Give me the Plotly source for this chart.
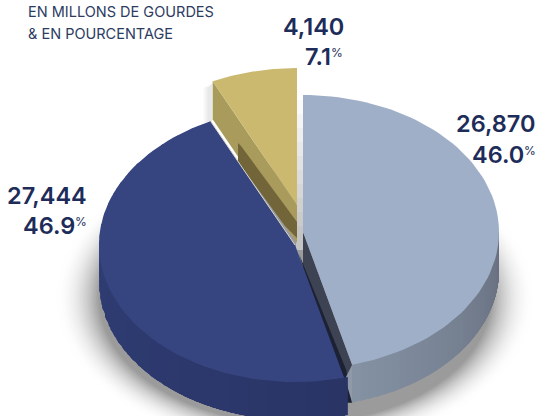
import math
import plotly.graph_objects as go

values = [26870, 27444, 4140]
percents = ["46.0", "46.9", "7.1"]
value_labels = ["26,870", "27,444", "4,140"]
subtitle = ["EN MILLONS DE GOURDES", "& EN POURCENTAGE"]

TOP = ["#9fafc8", "#364580", "#cbb96f"]
A, B, DEPTH = 196, 137, 38
CENTERS = [(303, 232), (295, 245), (297, 205)]

total = sum(values)
angles = [0]
for v in values:
    angles.append(angles[-1] + v / total * 360)
fig = go.Figure()


def pt(c, t, dy=0):
    r = math.radians(t)
    return c[0] + A * math.sin(r), c[1] - B * math.cos(r) + dy


def poly(pts, color):
    fig.add_trace(go.Scatter(x=[p[0] for p in pts], y=[p[1] for p in pts], mode="lines",
                             fill="toself", fillcolor=color, line=dict(width=0),
                             hoverinfo="skip", showlegend=False))


def arc(c, t0, t1, n=80, dy=0):
    return [pt(c, t0 + (t1 - t0) * i / n, dy) for i in range(n + 1)]


def wedge(c, t0, t1, color):
    poly([c] + arc(c, t0, t1) + [c], color)


def mix(c0, c1, f):
    return "rgb(%d,%d,%d)" % tuple(c0[i] + (c1[i] - c0[i]) * f for i in range(3))


def outer_wall(c, t0, t1, c0, c1, bands=30):
    for i in range(bands):
        a0 = t0 + (t1 - t0) * i / bands
        a1 = t0 + (t1 - t0) * (i + 1.2) / bands
        a1 = min(a1, t1)
        poly(arc(c, a0, a1, 6) + arc(c, a1, a0, 6, DEPTH), mix(c0, c1, i / bands))


def radial_wall(c, t, color):
    e = pt(c, t)
    poly([c, e, (e[0], e[1] + DEPTH), (c[0], c[1] + DEPTH)], color)


# soft shadow under the pie, drawn as ellipse shapes from pale to dark grey
LAYERS = 30
for i in range(LAYERS):
    f = (i + 1) / LAYERS
    sa = 240 - 44 * f
    sb = 152 - 26 * f
    g = int(255 - 100 * f * f)
    fig.add_shape(type="circle", xref="x", yref="y", layer="below",
                  x0=295 - sa, x1=295 + sa, y0=298 - sb, y1=298 + sb,
                  fillcolor="rgb(%d,%d,%d)" % (g, g, g), line=dict(width=0))
# shadow beside the gold slice and in the gap next to it
for i in range(6):
    g = 252 - i * 4
    poly([(203 + i, 88), (212, 84), (212, 140), (203 + i, 130)], "rgb(%d,%d,%d)" % (g, g, g))
for i in range(10):
    g = 250 - i * 6
    poly([(296, 100 + i * 14), (304, 100 + i * 14), (304, 250), (296, 250)], "rgb(%d,%d,%d)" % (g, g, g))

# gold slice
gold_t0, gold_t1 = angles[2], angles[3]
radial_wall(CENTERS[2], gold_t0, "#a99b5c")
wedge(CENTERS[2], gold_t0, gold_t1, TOP[2])
# shaded slot on the gold wall
poly([(238, 143), (241, 146), (297, 222), (297, 238), (285, 226), (238, 162)], "#716539")

# light slice inner wall
lc = CENTERS[0]
le = pt(lc, angles[1])
radial_wall(lc, angles[1], "#3d4352")
poly([(lc[0] - 4, lc[1] + 22), (le[0] - 6, le[1] + 5), (le[0], le[1] + DEPTH), (le[0] - 8, le[1] + DEPTH)], "#1c2233")
poly([le, (le[0], le[1] + DEPTH), (le[0] - 7, le[1] + 14)], "#8f99a8")

# dark slice
outer_wall(CENTERS[1], angles[2], angles[1], (0x33, 0x42, 0x7c), (0x2a, 0x35, 0x66))
wedge(CENTERS[1], angles[1], angles[2], TOP[1])
# thin highlight along the dark slice's edge under the gold wall
dc = CENTERS[1]
de = pt(dc, angles[2])
fig.add_trace(go.Scatter(x=[de[0], dc[0]], y=[de[1], dc[1]], mode="lines",
                         line=dict(color="#d8d6c8", width=1), hoverinfo="skip", showlegend=False))

# light slice
outer_wall(lc, angles[1], 90, (0x85, 0x92, 0xa4), (0x66, 0x6e, 0x7e))
wedge(lc, angles[0], angles[1], TOP[0])

NAVY = "#1d2c58"


def note(x, y, text, size, anchor="right", color=NAVY, weight=600):
    fig.add_annotation(x=x, y=y, text=text, showarrow=False, xanchor=anchor, yanchor="middle",
                       font=dict(family="Inter", size=size, color=color, weight=weight),
                       xref="x", yref="y")


def pct(right, y, p):
    note(right - 11, y, p, 23.5)
    note(right + 1, y - 4, "%", 12, weight=400)


note(538, 123, value_labels[0], 23.5)
pct(537, 154, percents[0])
note(89, 195, value_labels[1], 23.5)
pct(88, 225, percents[1])
note(346, 26, value_labels[2], 23.5)
pct(344, 56, percents[2])
note(26, 11, subtitle[0], 14.5, "left", "#2c3b62", 400)
note(26, 33, subtitle[1], 14.5, "left", "#2c3b62", 400)

fig.update_layout(width=541, height=416, margin=dict(l=0, r=0, t=0, b=0),
                  paper_bgcolor="white", plot_bgcolor="white",
                  xaxis=dict(range=[0, 541], visible=False, fixedrange=True),
                  yaxis=dict(range=[416, 0], visible=False, fixedrange=True))
fig.write_html("out.html", config={"displayModeBar": False},
               post_script="document.body.style.margin='0';document.documentElement.style.overflow='hidden';")
